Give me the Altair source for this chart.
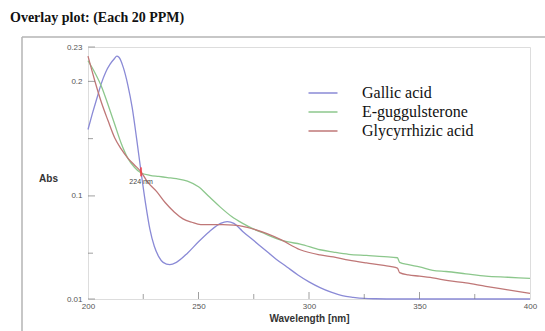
import altair as alt
import pandas as pd

# ---- data ----
gallic_wl = [200, 202, 204, 206, 208, 210, 212, 213, 214, 216, 218, 220, 222, 224, 226, 228, 230, 232, 234, 237,
             240, 245, 250, 255, 260, 263, 266, 270, 275, 280, 285, 290, 295, 300, 305, 310, 315, 320, 325, 330,
             340, 350, 400]
gallic_abs = [0.158, 0.172, 0.185, 0.198, 0.208, 0.215, 0.220, 0.222, 0.221, 0.212, 0.197, 0.177, 0.150, 0.121,
              0.094, 0.071, 0.056, 0.047, 0.042, 0.040, 0.042, 0.050, 0.060, 0.069, 0.076, 0.0775, 0.076, 0.069,
              0.061, 0.053, 0.045, 0.038, 0.031, 0.025, 0.020, 0.016, 0.013, 0.0115, 0.0105, 0.0102, 0.010, 0.010,
              0.010]

gugg_wl = [200, 203, 206, 209, 212, 215, 218, 221, 224, 228, 232, 236, 240, 245, 250, 255, 260, 265, 270, 275,
           280, 285, 290, 296, 305, 311, 318, 326, 334, 340, 341, 345, 350, 356, 362, 371, 380, 390, 400]
gugg_abs = [0.218, 0.208, 0.196, 0.180, 0.163, 0.146, 0.133, 0.125, 0.120, 0.118, 0.117, 0.116, 0.115, 0.113,
            0.108, 0.099, 0.090, 0.082, 0.076, 0.071, 0.067, 0.063, 0.060, 0.058, 0.053, 0.051, 0.049, 0.048,
            0.047, 0.046, 0.042, 0.040, 0.038, 0.035, 0.034, 0.032, 0.030, 0.029, 0.028]

glyc_wl = [200, 203, 206, 209, 212, 215, 218, 221, 224, 227, 231, 235, 239, 243, 247, 251, 256, 261, 266, 270,
           275, 281, 287, 296, 305, 311, 318, 326, 333, 340, 341, 345, 350, 356, 363, 371, 380, 390, 400]
glyc_abs = [0.222, 0.201, 0.182, 0.166, 0.151, 0.141, 0.133, 0.127, 0.121, 0.112, 0.104, 0.094, 0.086, 0.080,
            0.077, 0.075, 0.075, 0.075, 0.0745, 0.0735, 0.071, 0.067, 0.062, 0.053, 0.0485, 0.0467, 0.044,
            0.0415, 0.0395, 0.037, 0.033, 0.031, 0.030, 0.0285, 0.026, 0.024, 0.021, 0.018, 0.015]

series_names = ["Gallic acid", "E-guggulsterone", "Glycyrrhizic acid"]
series_colors = ["#8a8ad6", "#8cc78c", "#bf7777"]

y_labels = [0.01, 0.1, 0.2, 0.23]
y_minor = [0.05, 0.15]
x_labels = [200, 250, 300, 350, 400]
x_major = [250, 300, 350]
x_minor = [225, 275, 325, 375]

marker_wl = [224]
marker_abs = [0.121]
marker_text = ["224 nm"]

rows = []
for name, wl, ab in zip(series_names, [gallic_wl, gugg_wl, glyc_wl], [gallic_abs, gugg_abs, glyc_abs]):
    for w, a in zip(wl, ab):
        rows.append({"series": name, "wl": w, "abs": a})
df = pd.DataFrame(rows)

W, H = 442, 252
xs = alt.Scale(domain=[200, 400], nice=False, zero=False)
ys = alt.Scale(domain=[0.01, 0.23], nice=False, zero=False)

lines = alt.Chart(df).mark_line(strokeWidth=1.3, interpolate="monotone").encode(
    x=alt.X("wl:Q", scale=xs, title="Wavelength [nm]",
            axis=alt.Axis(values=x_labels, ticks=False, domain=False, grid=False, labelFont="Liberation Sans",
                          labelFontSize=8, labelColor="#555", labelPadding=3, labelFlush=False,
                          labelOverlap=False, titleFont="Liberation Sans", titleFontSize=10,
                          titleFontWeight="bold", titleColor="#333", titlePadding=3)),
    y=alt.Y("abs:Q", scale=ys, title="Abs",
            axis=alt.Axis(values=y_labels, format=".2~f", ticks=False, domain=False, grid=False,
                          labelFont="Liberation Sans", labelFontSize=8, labelColor="#555", labelPadding=6,
                          labelFlush=False, labelOverlap=False, titleFont="Liberation Sans", titleFontSize=10,
                          titleFontWeight="bold", titleColor="#333", titleAngle=0, titleX=-40, titleY=131,
                          titleAlign="center", titleBaseline="middle")),
    color=alt.Color("series:N", sort=series_names,
                    scale=alt.Scale(domain=series_names, range=series_colors),
                    legend=alt.Legend(title=None, orient="none", legendX=224, legendY=35,
                                      symbolType="M-1.45,0H1.45", symbolSize=400, symbolStrokeWidth=1.5,
                                      symbolFillColor="transparent",
                                      labelFont="Liberation Serif", labelFontSize=16, labelColor="#111",
                                      labelOffset=28, rowPadding=0, padding=0)),
)

# inward axis ticks
ytick_major = alt.Chart(pd.DataFrame({"v": y_labels})).mark_tick(
    orient="horizontal", size=7, thickness=1, color="#777").encode(
    y=alt.Y("v:Q", scale=ys), x=alt.value(3.5))
ytick_minor = alt.Chart(pd.DataFrame({"v": y_minor})).mark_tick(
    orient="horizontal", size=5, thickness=1, color="#777").encode(
    y=alt.Y("v:Q", scale=ys), x=alt.value(2.5))
xtick_major = alt.Chart(pd.DataFrame({"v": x_major})).mark_tick(
    orient="vertical", size=7, thickness=1, color="#777").encode(
    x=alt.X("v:Q", scale=xs), y=alt.value(H - 3.5))
xtick_minor = alt.Chart(pd.DataFrame({"v": x_minor})).mark_tick(
    orient="vertical", size=5, thickness=1, color="#777").encode(
    x=alt.X("v:Q", scale=xs), y=alt.value(H - 2.5))

mdf = pd.DataFrame({"wl": marker_wl, "abs": marker_abs, "t": marker_text})
marker = alt.Chart(mdf).mark_tick(orient="vertical", size=9, thickness=2, color="#ff3333").encode(
    x=alt.X("wl:Q", scale=xs), y=alt.Y("abs:Q", scale=ys))
marker_label = alt.Chart(mdf).mark_text(font="Liberation Sans", fontSize=7, color="#444", dy=10).encode(
    x=alt.X("wl:Q", scale=xs), y=alt.Y("abs:Q", scale=ys), text="t:N")

# outer frame of the figure
frame_v = alt.Chart(pd.DataFrame({"a": [0]})).mark_rule(color="#b5b5b5", strokeWidth=1.5).encode(
    x=alt.value(-66), y=alt.value(-10), y2=alt.value(300))
frame_h = alt.Chart(pd.DataFrame({"a": [0]})).mark_rule(color="#b5b5b5", strokeWidth=1.5).encode(
    x=alt.value(-66), x2=alt.value(470), y=alt.value(-10))

chart = alt.layer(
    frame_v, frame_h, lines, ytick_major, ytick_minor, xtick_major, xtick_minor, marker, marker_label
).properties(
    width=W, height=H,
    autosize=alt.AutoSizeParams(type="none"),
    padding={"left": 88, "top": 47, "right": 15, "bottom": 32},
    title=alt.TitleParams("Overlay plot: (Each 20 PPM)", anchor="start", frame="group", dx=-78,
                          offset=0, baseline="alphabetic", font="Liberation Serif", fontSize=14,
                          fontWeight="bold", color="#111"),
).configure_view(stroke="#8c8c8c", strokeWidth=1.5).configure(background="white")

chart.save("out.html", embed_options={"renderer": "svg", "actions": False})
